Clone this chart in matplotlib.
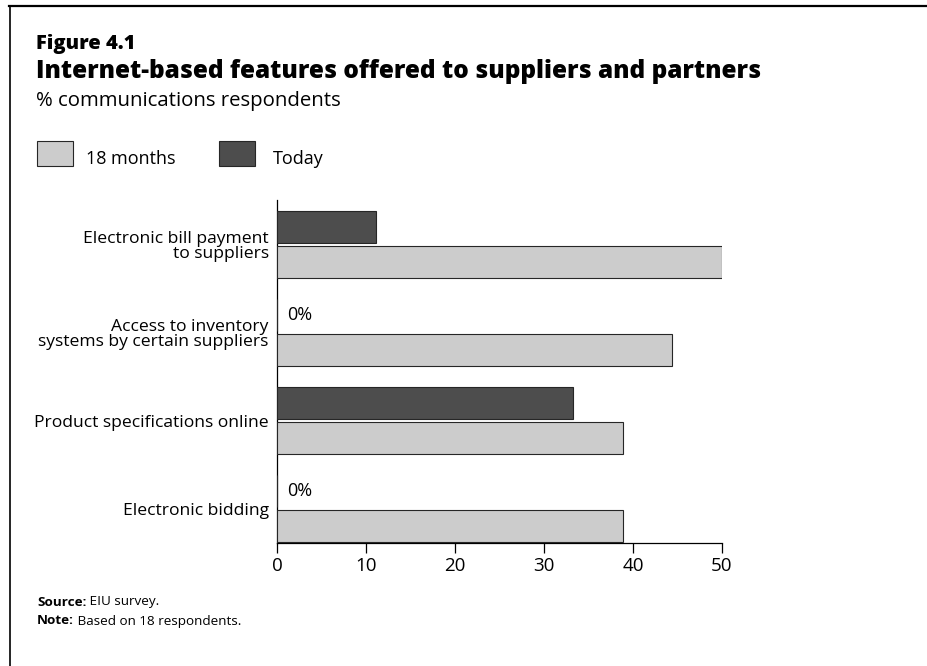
import matplotlib
matplotlib.use("Agg")
import matplotlib.pyplot as plt
import numpy as np

plt.rcParams["font.family"] = ["Open Sans", "DejaVu Sans"]

# ── data ──────────────────────────────────────────────────────────────────────
categories = [
    "Electronic bill payment\nto suppliers",
    "Access to inventory\nsystems by certain suppliers",
    "Product specifications online",
    "Electronic bidding",
]
today = [11.1, 0.0, 33.3, 0.0]
months18 = [50.0, 44.4, 38.9, 38.9]
series_names = ["18 months", "Today"]
xticks = [0, 10, 20, 30, 40, 50]

LIGHT = "#cccccc"
DARK = "#4d4d4d"
EDGE = "#262626"

W, H = 928, 666
fig = plt.figure(figsize=(W / 100, H / 100), dpi=100)
fig.patch.set_facecolor("white")


def fx(px):
    return px / W


def fy(py):
    return 1 - py / H


# ── frame lines (top and left) ───────────────────────────────────────────────
fig.add_artist(plt.Line2D([fx(9), 1.0], [fy(6), fy(6)], color="black", lw=1.6))
fig.add_artist(plt.Line2D([fx(10), fx(10)], [fy(6), 0.0], color="black", lw=1.2))

# ── titles ───────────────────────────────────────────────────────────────────
fig.text(fx(36), fy(44), "Figure 4.1", fontsize=14.5, fontweight="heavy",
         ha="left", va="center", color="black")
fig.text(fx(36), fy(71), "Internet-based features offered to suppliers and partners",
         fontsize=17.6, fontweight="heavy", ha="left", va="center", color="black")
fig.text(fx(36), fy(101), "% communications respondents", fontsize=14.7,
         ha="left", va="center", color="black")

# ── legend ───────────────────────────────────────────────────────────────────
for x0, col, name, tx in [(37, LIGHT, series_names[0], 86),
                          (219, DARK, series_names[1], 273)]:
    fig.add_artist(plt.Rectangle((fx(x0), fy(166)), fx(36), 25 / H,
                                 facecolor=col, edgecolor=EDGE, lw=0.8))
    fig.text(fx(tx), fy(159), name, fontsize=13, ha="left", va="center")

# ── chart ────────────────────────────────────────────────────────────────────
ax = fig.add_axes([fx(277), fy(543), fx(722 - 277), (543 - 200) / H])
y = np.arange(len(categories))
bh = 0.36
off = 0.2
ax.barh(y - off, today, height=bh, color=DARK, edgecolor=EDGE, lw=0.8, zorder=3)
ax.barh(y + off, months18, height=bh, color=LIGHT, edgecolor=EDGE, lw=0.8, zorder=3)

for yi, v in zip(y, today):
    if v == 0:
        ax.text(1.1, yi - off, "0%", fontsize=13, ha="left", va="center")

ax.set_xlim(0, 50)
ax.set_ylim(3.39, -0.506)
ax.set_xticks(xticks)
ax.set_xticklabels([str(t) for t in xticks], fontsize=13.5)
ax.tick_params(axis="x", direction="out", length=7, width=0.9, pad=3)
ax.set_yticks(y)
ax.set_yticklabels(categories, fontsize=12.6, linespacing=0.95)
ax.tick_params(axis="y", length=0, pad=6)
for lab in ax.get_yticklabels():
    lab.set_multialignment("right")

for s in ["top", "right"]:
    ax.spines[s].set_visible(False)
ax.spines["left"].set_linewidth(0.9)
ax.spines["bottom"].set_linewidth(0.9)

# ── footnotes ────────────────────────────────────────────────────────────────
renderer = fig.canvas.get_renderer()
for py, bold, rest in [(602, "Source:", " EIU survey."),
                       (621, "Note:", " Based on 18 respondents.")]:
    t = fig.text(fx(37), fy(py), bold, fontsize=9.7, fontweight="bold",
                 ha="left", va="center")
    bb = t.get_window_extent(renderer=renderer)
    fig.text(bb.x1 / W, fy(py), rest, fontsize=9.7, ha="left", va="center")

fig.savefig("out.png", dpi=100, facecolor="white")
